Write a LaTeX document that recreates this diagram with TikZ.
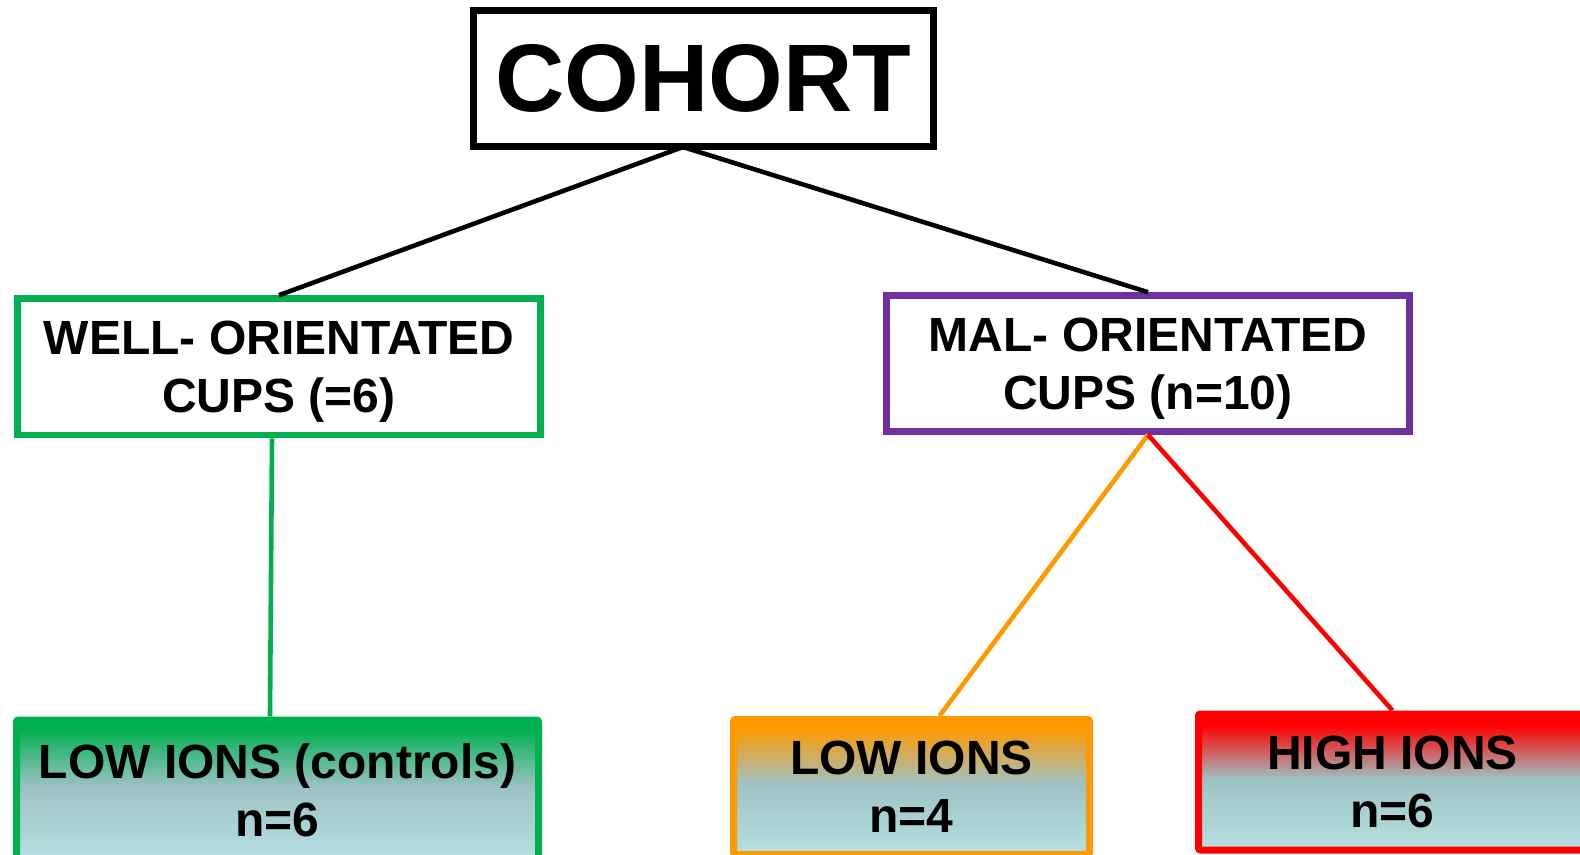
\documentclass[tikz,border=0pt]{standalone}
\usepackage{fontspec}
\setmainfont{Liberation Sans}
\usetikzlibrary{calc}
\definecolor{cgreen}{HTML}{00B050}
\definecolor{cpurple}{HTML}{7030A0}
\definecolor{corange}{HTML}{FF9900}
\definecolor{cred}{HTML}{FF0000}
\definecolor{cmid}{HTML}{9DC2C5}
\definecolor{clight}{HTML}{B6E0E3}
\pgfdeclareverticalshading{leafgreen}{100bp}{color(0bp)=(clight); color(25bp)=(clight); color(51bp)=(cmid); color(72bp)=(cgreen); color(100bp)=(cgreen)}
\pgfdeclareverticalshading{leaforange}{100bp}{color(0bp)=(clight); color(25bp)=(clight); color(51bp)=(cmid); color(72bp)=(corange); color(100bp)=(corange)}
\pgfdeclareverticalshading{leafred}{100bp}{color(0bp)=(clight); color(25bp)=(clight); color(51bp)=(cmid); color(71bp)=(cred); color(100bp)=(cred)}
\tikzset{
  topbox/.style={draw=black, line width=3.5pt, fill=white, inner sep=0pt,
    font=\fontsize{48}{58}\selectfont\bfseries},
  midbox/.style={line width=3.3pt, fill=white, inner sep=0pt, align=center, text depth=0pt,
    font=\fontsize{24}{29}\selectfont\bfseries},
  leafbox/.style={line width=3.5pt, inner sep=0pt, align=center, rounded corners=1pt,
    draw=#1, shading=leaf#1,
    font=\fontsize{24}{29}\selectfont\bfseries},
  link/.style={line width=2.3pt}
}
\colorlet{green}{cgreen}
\colorlet{orange}{corange}
\colorlet{red}{cred}
\begin{document}
\begin{tikzpicture}[x=0.5pt,y=-0.5pt]
\clip (0,0) rectangle (1580,855);
\fill[white] (0,0) rectangle (1580,855);

\node[topbox, minimum width=230pt, minimum height=68pt] (cohort) at (703.5,78.5) {COHORT};

\node[midbox, draw=cgreen, minimum width=261.5pt, minimum height=68.25pt] (well) at (279,366.75)
  {WELL- ORIENTATED\\CUPS (=6)};
\node[midbox, draw=cpurple, minimum width=261.5pt, minimum height=68pt] (mal) at (1148,363.5)
  {MAL- ORIENTATED\\CUPS (n=10)};

\node[leafbox=green, minimum width=261pt, minimum height=70pt] (lowc) at (277.5,790)
  {LOW IONS (controls)\\n=6};
\node[leafbox=orange, minimum width=178pt, minimum height=67.5pt] (lowi) at (911.5,787)
  {LOW IONS\\n=4};
\node[leafbox=red, minimum width=194pt, minimum height=68pt] (high) at (1392.5,782)
  {HIGH IONS\\n=6};

\coordinate (split) at ($(cohort.south)+(-20.5,-3)$);
\draw[link, black] (split) -- (well.north);
\draw[link, black] (split) -- (mal.north);
\draw[link, cgreen] ($(well.south)+(-7,0)$) -- ($(lowc.north)+(-7.5,0)$);
\draw[link, corange] (mal.south) -- ($(lowi.north)+(28,0)$);
\draw[link, cred] (mal.south) -- (high.north);
\end{tikzpicture}
\end{document}
